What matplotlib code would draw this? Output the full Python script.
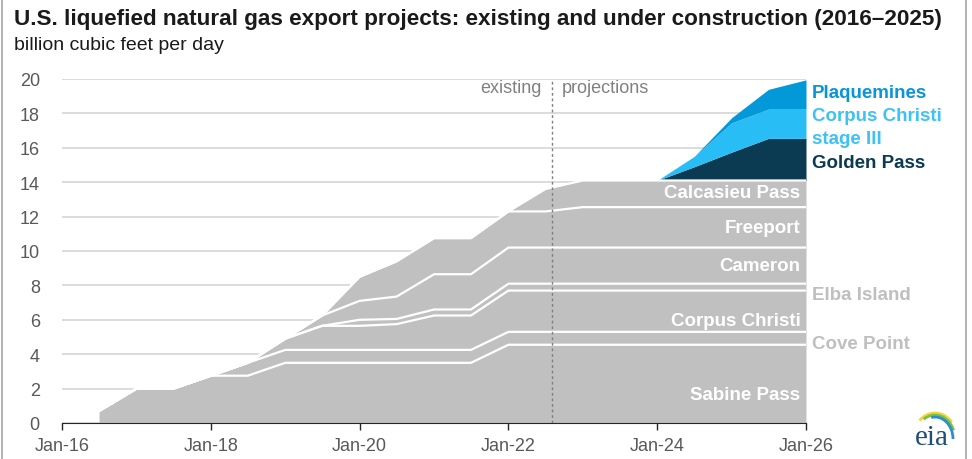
import numpy as np
import pandas as pd
import matplotlib
matplotlib.use("Agg")
import matplotlib.pyplot as plt
import matplotlib.dates as mdates
from matplotlib.patches import Arc

plt.rcParams["font.family"] = ["Liberation Sans", "DejaVu Sans"]

# semi-annual points, Jul-16 .. Jan-26 (billion cubic feet per day)
dates = pd.date_range("2016-07-01", "2026-01-01", freq="6MS")

sabine_pass = [0.7, 2.0, 2.0, 2.75, 2.75, 3.5, 3.5, 3.5, 3.5, 3.5, 3.5, 4.55, 4.55, 4.55, 4.55, 4.55, 4.55, 4.55, 4.55, 4.55]
cove_point = [0, 0, 0, 0, 0.75, 0.75, 0.75, 0.75, 0.75, 0.75, 0.75, 0.75, 0.75, 0.75, 0.75, 0.75, 0.75, 0.75, 0.75, 0.75]
corpus_christi = [0, 0, 0, 0, 0, 0.65, 1.4, 1.4, 1.5, 2.0, 2.0, 2.4, 2.4, 2.4, 2.4, 2.4, 2.4, 2.4, 2.4, 2.4]
elba_island = [0, 0, 0, 0, 0, 0, 0, 0.35, 0.3, 0.35, 0.35, 0.4, 0.4, 0.4, 0.4, 0.4, 0.4, 0.4, 0.4, 0.4]
cameron = [0, 0, 0, 0, 0, 0, 0.6, 1.1, 1.3, 2.05, 2.05, 2.1, 2.1, 2.1, 2.1, 2.1, 2.1, 2.1, 2.1, 2.1]
freeport = [0, 0, 0, 0, 0, 0, 0, 1.4, 2.05, 2.1, 2.1, 2.1, 2.1, 2.35, 2.35, 2.35, 2.35, 2.35, 2.35, 2.35]
calcasieu_pass = [0, 0, 0, 0, 0, 0, 0, 0, 0, 0, 0, 0, 1.3, 1.55, 1.55, 1.55, 1.55, 1.55, 1.55, 1.55]
golden_pass = [0] * 15 + [0, 0.8, 1.65, 2.45, 2.45]
cc_stage3 = [0] * 15 + [0, 0.6, 1.7, 1.7, 1.7]
plaquemines = [0] * 15 + [0, 0, 0.3, 1.15, 1.7]

# (name, values, label inside/outside, label nudge from layer middle)
existing = [("Sabine Pass", sabine_pass, "in", -0.6), ("Cove Point", cove_point, "out", -0.3),
            ("Corpus Christi", corpus_christi, "in", -0.55), ("Elba Island", elba_island, "out", -0.45),
            ("Cameron", cameron, "in", 0), ("Freeport", freeport, "in", 0),
            ("Calcasieu Pass", calcasieu_pass, "in", 0.05)]
under_construction = [("Golden Pass", golden_pass, "#0b3a53"),
                      ("Corpus Christi stage III", cc_stage3, "#29bdf5"),
                      ("Plaquemines", plaquemines, "#0398d8")]

split_date = pd.Timestamp("2022-08-01")
proj_start = pd.Timestamp("2024-01-01")
LABEL_FS = 13.5

fig = plt.figure(figsize=(9.72, 4.6), dpi=100)
ax = fig.add_axes([62 / 972, 1 - 424 / 460, (806 - 62) / 972, (424 - 80) / 460])

end = dates[-1]
base = np.zeros(len(dates))
for name, vals, where, nudge in existing:
    top = base + np.array(vals)
    ax.fill_between(dates, base, top, color="#c0c0c0", lw=0, zorder=2)
    ax.plot(dates, top, color="white", lw=1.6, zorder=3, solid_capstyle="butt")
    mid = (base[-1] + top[-1]) / 2 + nudge
    if where == "in":
        ax.annotate(name, (end, mid), xytext=(-4, 0), textcoords="offset points",
                    ha="right", va="center", color="white", fontsize=LABEL_FS, fontweight="bold", zorder=5)
    else:
        ax.annotate(name, (end, mid), xytext=(4, 0), textcoords="offset points",
                    ha="left", va="center", color="#bfbfbf", fontsize=LABEL_FS, fontweight="bold",
                    annotation_clip=False)
    base = top

proj = dates >= proj_start
for name, vals, col in under_construction:
    top = base + np.array(vals)
    ax.fill_between(dates[proj], base[proj], top[proj], color=col, lw=0, zorder=2)
    base = top

# labels for the projects under construction
for txt, yv, col in [("Plaquemines", 19.2, "#0a96d6"), ("Corpus Christi", 17.85, "#3ec1f7"),
                     ("stage III", 16.55, "#3ec1f7"), ("Golden Pass", 15.15, "#0b3a53")]:
    ax.annotate(txt, (end, yv), xytext=(4, 0), textcoords="offset points", ha="left", va="center",
                color=col, fontsize=LABEL_FS, fontweight="bold", annotation_clip=False)

# existing / projections divider
ax.axvline(split_date, color="#7f7f7f", lw=1, ls=(0, (2, 2)), zorder=4)
ax.annotate("existing", (split_date, 19.5), xytext=(-7, 0), textcoords="offset points",
            ha="right", va="center", color="#808080", fontsize=13)
ax.annotate("projections", (split_date, 19.5), xytext=(7, 0), textcoords="offset points",
            ha="left", va="center", color="#808080", fontsize=13)

ax.set_xlim(pd.Timestamp("2016-01-01"), pd.Timestamp("2026-01-01"))
ax.set_ylim(0, 20)
ax.set_yticks(range(0, 21, 2))
ax.set_xticks(pd.date_range("2016-01-01", "2026-01-01", freq="24MS"))
ax.xaxis.set_major_formatter(mdates.DateFormatter("%b-%y"))
ax.yaxis.grid(True, color="#d9d9d9", lw=1.3)
ax.set_axisbelow(True)
for s in ["left", "right", "top"]:
    ax.spines[s].set_visible(False)
ax.spines["bottom"].set_color("#262626")
ax.spines["bottom"].set_zorder(6)
ax.tick_params(axis="y", length=0, pad=16, labelsize=13, labelcolor="#595959")
ax.tick_params(axis="x", length=5, width=1, color="#262626", direction="out", pad=5,
               labelsize=13, labelcolor="#595959")

fig.text(14 / 972, 1 - 20 / 460, "U.S. liquefied natural gas export projects: existing and under construction (2016\u20132025)",
         ha="left", va="center", fontsize=16.2, fontweight="bold", color="#1a1a1a")
fig.text(14 / 972, 1 - 46 / 460, "billion cubic feet per day", ha="left", va="center",
         fontsize=14, color="#1a1a1a")

# eia logo
lax = fig.add_axes([905 / 972, 8 / 460, 55 / 972, 50 / 460])
lax.set_xlim(0, 55)
lax.set_ylim(0, 50)
lax.axis("off")
lax.add_patch(Arc((30, 12), 44, 52, theta1=45, theta2=130, color="#f5d33a", lw=2))
lax.add_patch(Arc((30, 12), 40, 48, theta1=25, theta2=120, color="#7cc242", lw=2))
lax.add_patch(Arc((30, 12), 36, 44, theta1=0, theta2=100, color="#2a8fd0", lw=2))
lax.text(27, 14, "eia", ha="center", va="center", fontsize=21, color="#1f4e79",
         family=["Liberation Serif", "DejaVu Serif"])

# outer frame
fig.add_artist(plt.Line2D([2 / 972, 2 / 972], [0, 1], transform=fig.transFigure, color="#a6a6a6", lw=1.2))
fig.add_artist(plt.Line2D([966 / 972, 966 / 972], [0, 1], transform=fig.transFigure, color="#a6a6a6", lw=1.2))

fig.savefig("out.png", dpi=100)
